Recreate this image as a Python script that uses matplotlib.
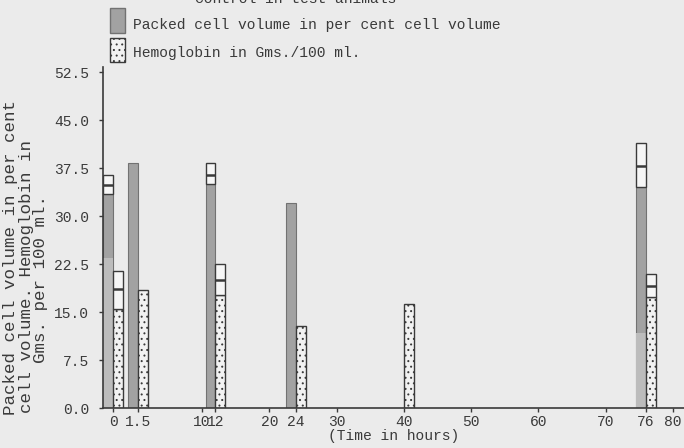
import numpy as np
import matplotlib.pyplot as plt
from matplotlib.patches import Rectangle

# tiempos de muestreo (horas) y valores
hours = [0, 1.5, 12, 24, 40, 76]
pcv = [33.4, 38.3, 35.0, 32.0, np.nan, 34.5]
pcv_light = [23.4, 0, 0, 0, 0, 11.7]
pcv_mean = [34.8, np.nan, 36.4, np.nan, np.nan, 37.8]
pcv_high = [36.4, np.nan, 38.3, np.nan, np.nan, 41.4]
hb = [15.4, 18.4, 17.7, 12.8, 16.25, 17.3]
hb_mean = [18.6, np.nan, 20.0, np.nan, np.nan, 19.1]
hb_high = [21.4, np.nan, 22.5, np.nan, np.nan, 20.9]

x_ticks = [0, 1.5, 10, 12, 20, 24, 30, 40, 50, 60, 70, 76, 80]
y_ticks = [0.0, 7.5, 15.0, 22.5, 30.0, 37.5, 45.0, 52.5]

legend_labels = ['Packed cell volume in per cent cell volume',
                 'Hemoglobin in Gms./100 ml.']

# eje de tiempo dibujado a mano: tramo inicial estirado
knot_hours = [0, 1.5, 10, 80]
knot_pos = [0, 3.71, 13.22, 83.2]


def hour_to_pos(h):
    return np.interp(h, knot_hours, knot_pos)


plt.rcParams['font.family'] = ['Liberation Mono', 'DejaVu Sans']
plt.rcParams['font.size'] = 10.5
plt.rcParams['hatch.linewidth'] = 0.7
ink = '#3a3a3a'
bg = '#ebebeb'
gray = '#a2a2a2'
gray_edge = '#727272'
W, H = 684, 448

fig = plt.figure(figsize=(6.84, 4.48), dpi=100, facecolor=bg)
ax = fig.add_axes([103 / W, 40 / H, 581 / W, 341 / H], facecolor=bg)

pos = hour_to_pos(hours)
w = 1.45

# hematocrito (barras grises a la izquierda del tick)
ax.bar(pos, pcv, width=-w, align='edge', color=gray,
       edgecolor=gray_edge, linewidth=0.8)
ax.bar(pos, pcv_light, width=-w, align='edge', color='#bcbcbc',
       edgecolor='none', linewidth=0)
ax.bar(pos, np.array(pcv_high) - np.array(pcv), bottom=pcv, width=-w,
       align='edge', color='#f6f6f6', edgecolor=ink, linewidth=1.0)
ax.hlines(pcv_mean, pos - w, pos, colors=ink, linewidth=1.8)

# hemoglobina (barras punteadas a la derecha del tick)
ax.bar(pos, hb, width=w, align='edge', color='#f2f2f2',
       edgecolor=ink, hatch='...', linewidth=1.0)
ax.bar(pos, np.array(hb_high) - np.array(hb), bottom=hb, width=w,
       align='edge', color='#f6f6f6', edgecolor=ink, linewidth=1.0)
ax.hlines(hb_mean, pos, pos + w, colors=ink, linewidth=1.8)

ax.set_xlim(-1.49, 84.85)
ax.set_ylim(0, 53.3)
ax.set_xticks(hour_to_pos(x_ticks), [f'{t:g}' for t in x_ticks])
ax.set_yticks(y_ticks, [f'{t:.1f}' for t in y_ticks])
ax.tick_params(colors=ink, labelcolor=ink, length=3, width=1.0)
ax.tick_params(axis='y', pad=7)
ax.tick_params(axis='x', pad=2)
for side in ['top', 'right']:
    ax.spines[side].set_visible(False)
for side in ['left', 'bottom']:
    ax.spines[side].set_color(ink)
    ax.spines[side].set_linewidth(1.2)

ax.set_xlabel('(Time in hours)', color=ink, labelpad=0)
ax.xaxis.set_label_coords((394 - 103) / 581, -(429 - 408) / 341)

# etiqueta vertical escrita en tres renglones (otra maquina, letra mayor)
ylab = ['Packed cell volume in per cent',
        'cell volume. Hemoglobin in',
        'Gms. per 100 ml.']
ylab_x = [11, 26, 41]
ylab_y = [415, 413, 363]
for s, xx, yy in zip(ylab, ylab_x, ylab_y):
    fig.text(xx / W, 1 - yy / H, s, rotation=90, rotation_mode='anchor',
             ha='left', va='center', color=ink, fontsize=12.6)

fig.text(296 / W, 1 - 3 / H, 'Control in test animals', ha='center',
         va='baseline', color=ink)

# leyenda dibujada a mano como en el original
fig.add_artist(Rectangle((110 / W, 1 - 33 / H), 15 / W, 25 / H,
                         transform=fig.transFigure, facecolor=gray,
                         edgecolor=gray_edge, linewidth=1.0))
fig.add_artist(Rectangle((110 / W, 1 - 62 / H), 15 / W, 24 / H,
                         transform=fig.transFigure, facecolor='#f2f2f2',
                         edgecolor=ink, hatch='...', linewidth=1.0))
for label, yy in zip(legend_labels, [25, 53]):
    fig.text(133 / W, 1 - yy / H, label, ha='left', va='center', color=ink)

fig.savefig('out.png', dpi=100, facecolor=bg)
